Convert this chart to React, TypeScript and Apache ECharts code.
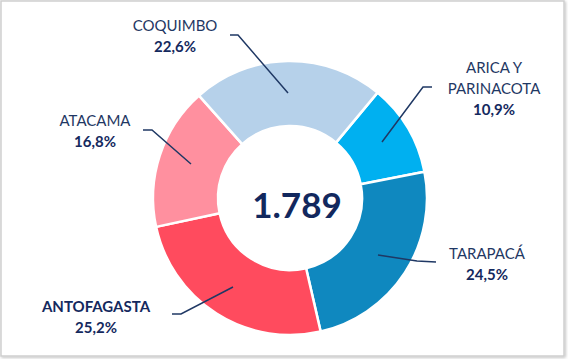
import React, { useEffect, useRef } from "react";
import * as echarts from "echarts";

const regions = ["ARICA Y\nPARINACOTA", "TARAPACÁ", "ANTOFAGASTA", "ATACAMA", "COQUIMBO"];
const counts = [195, 438, 451, 301, 404];
const percentLabels = ["10,9%", "24,5%", "25,2%", "16,8%", "22,6%"];
const totalLabel = "1.789";
const colors = ["#00B0F0", "#0F88BF", "#FF4B5E", "#FF909F", "#B6D1EA"];
const boldName = [false, false, true, false, false];
// label block centers and leader line points (layout only)
const labelPos: [number, number][] = [
  [494, 88],
  [487, 263],
  [96, 316],
  [95, 130],
  [175, 35],
];
const leaderLines: [number, number][][] = [
  [[382, 142], [423, 87], [432, 87]],
  [[378, 255], [417, 261], [436, 262]],
  [[233, 287], [181, 314], [172, 314]],
  [[191, 164], [152, 130], [143, 130]],
  [[288, 93], [238, 35], [230, 35]],
];

export default function App() {
  const ref = useRef<HTMLDivElement>(null);
  useEffect(() => {
    if (!ref.current) return;
    const chart = echarts.init(ref.current, null, { renderer: "svg" });
    const font = "Lato, 'Noto Sans', sans-serif";
    chart.setOption({
      animation: false,
      backgroundColor: "#ffffff",
      graphic: [
        {
          type: "rect",
          z: 0,
          shape: { x: 1, y: 1, width: 563, height: 355 },
          style: {
            fill: "#ffffff",
            stroke: "#cfcfcf",
            lineWidth: 1.5,
            shadowBlur: 3,
            shadowOffsetX: 1,
            shadowOffsetY: 1,
            shadowColor: "rgba(0,0,0,0.25)",
          },
        },
        {
          type: "text",
          z: 100,
          x: 297,
          y: 204,
          style: {
            text: totalLabel,
            fontFamily: font,
            fontWeight: "bold",
            fontSize: 35,
            fill: "#12285E",
            align: "center",
            verticalAlign: "middle",
          },
        },
        ...leaderLines.map((pts) => ({
          type: "polyline",
          z: 100,
          shape: { points: pts },
          style: { stroke: "#1F3864", lineWidth: 1.5, fill: "none" },
        })),
      ],
      series: [
        {
          type: "pie",
          center: [290, 198],
          radius: [72, 137],
          startAngle: 50.3,
          clockwise: true,
          z: 5,
          itemStyle: { borderColor: "#ffffff", borderWidth: 2.5 },
          label: {
            show: true,
            position: "outside",
            fontFamily: font,
            lineHeight: 21,
            formatter: (p: any) => {
              const i = p.dataIndex;
              const names = regions[i]
                .split("\n")
                .map((s) => `{${boldName[i] ? "b" : "n"}|${s}}`)
                .join("\n");
              return `${names}\n{p|${percentLabels[i]}}`;
            },
            rich: {
              n: { fontFamily: font, fontSize: 15, color: "#1F3864", lineHeight: 21, align: "center" },
              b: { fontFamily: font, fontSize: 15, fontWeight: "bold", color: "#14295E", lineHeight: 21, align: "center" },
              p: { fontFamily: font, fontSize: 15, fontWeight: "bold", color: "#14295E", lineHeight: 21, align: "center" },
            },
          },
          labelLine: { show: false },
          labelLayout: (params: any) => {
            const i = params.dataIndex;
            return {
              x: labelPos[i][0],
              y: labelPos[i][1],
              align: "center",
              verticalAlign: "middle",
            };
          },
          data: regions.map((name, i) => ({
            name,
            value: counts[i],
            itemStyle: { color: colors[i] },
          })),
        },
      ],
    });
    return () => chart.dispose();
  }, []);
  return (
    <div
      ref={ref}
      style={{ position: "fixed", left: 0, top: 0, width: 568, height: 359 }}
    />
  );
}
